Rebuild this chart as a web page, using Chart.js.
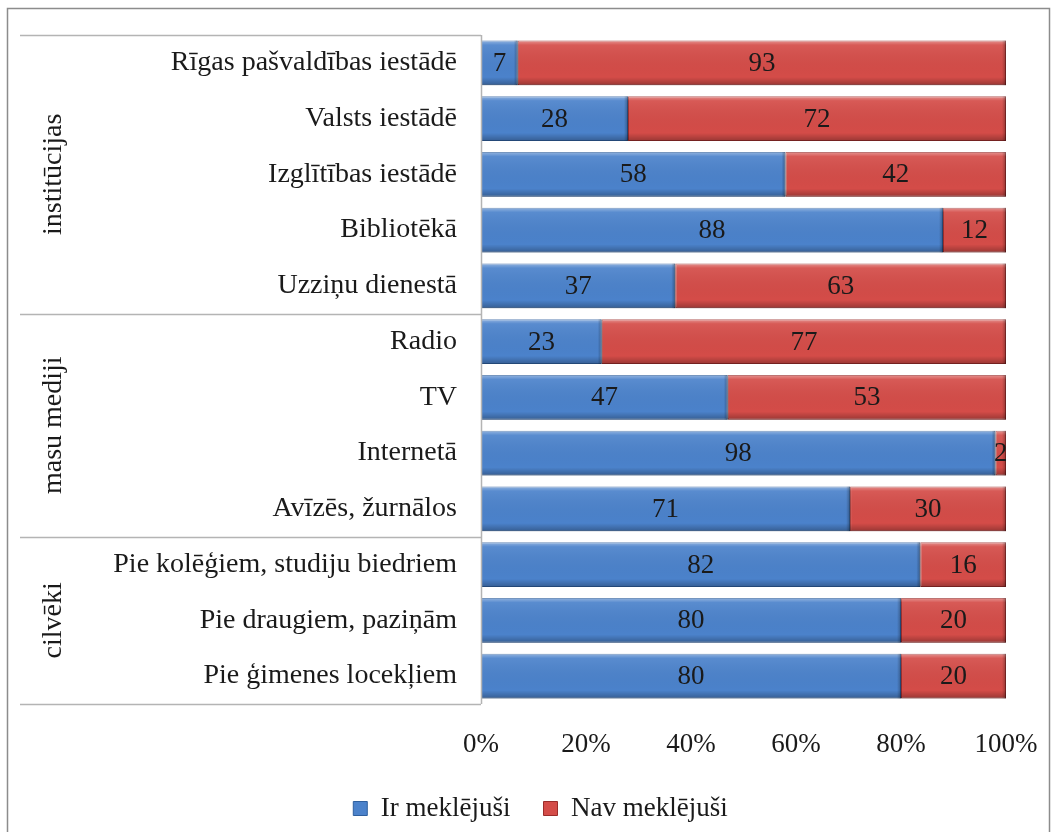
<!DOCTYPE html>
<html>
<head>
<meta charset="utf-8">
<script src="https://cdn.jsdelivr.net/npm/chart.js@4"></script>
<style>
  html, body { margin: 0; padding: 0; background: #fff; }
  #wrap { width: 1052px; height: 832px; }
</style>
</head>
<body>
<div id="wrap"><canvas id="chart" width="1052" height="832"></canvas></div>
<script>
// Dati
const categories = [
    'Rīgas pašvaldības iestādē', 'Valsts iestādē', 'Izglītības iestādē', 'Bibliotēkā', 'Uzziņu dienestā',
    'Radio', 'TV', 'Internetā', 'Avīzēs, žurnālos',
    'Pie kolēģiem, studiju biedriem', 'Pie draugiem, paziņām', 'Pie ģimenes locekļiem'
];
const irMeklejusi = [7, 28, 58, 88, 37, 23, 47, 98, 71, 82, 80, 80];
const navMeklejusi = [93, 72, 42, 12, 63, 77, 53, 2, 30, 16, 20, 20];
const groupNames = ['institūcijas', 'masu mediji', 'cilvēki'];
const groupSizes = [5, 4, 3];
const xTicks = [0, 20, 40, 60, 80, 100];

const FONT = '"Liberation Serif", "Times New Roman", serif';

// 100% stacked: each row scaled to its own total
const totals = irMeklejusi.map((v, i) => v + navMeklejusi[i]);
const irPct = irMeklejusi.map((v, i) => v / totals[i] * 100);
const navPct = navMeklejusi.map((v, i) => v / totals[i] * 100);
const rawValues = [irMeklejusi, navMeklejusi];

// Rāmis, grupu līnijas un nosaukumi
const framePlugin = {
    id: 'frame',
    beforeDraw(chart) {
        const c = chart.ctx;
        c.save();
        c.strokeStyle = '#8c8c8c';
        c.lineWidth = 1.5;
        c.strokeRect(7.5, 8.5, 1042, 840);
        c.restore();
    },
    afterDraw(chart) {
        const c = chart.ctx;
        const y = chart.scales.y;
        const area = chart.chartArea;
        const step = (area.bottom - area.top) / categories.length;
        c.save();
        c.strokeStyle = '#b4b4b4';
        c.lineWidth = 1.5;
        // vertikālā ass
        c.beginPath();
        c.moveTo(area.left + 0.5, area.top);
        c.lineTo(area.left + 0.5, area.bottom);
        c.stroke();
        let idx = 0;
        const bounds = [area.top];
        groupSizes.forEach(n => {
            idx += n;
            bounds.push(y.getPixelForValue(idx - 1) + step / 2);
        });
        bounds.forEach(b => {
            c.beginPath();
            c.moveTo(20, Math.round(b) + 0.5);
            c.lineTo(area.left, Math.round(b) + 0.5);
            c.stroke();
        });
        c.fillStyle = '#1a1a1a';
        c.font = '28px ' + FONT;
        c.textAlign = 'center';
        c.textBaseline = 'middle';
        groupNames.forEach((g, i) => {
            const mid = (bounds[i] + bounds[i + 1]) / 2;
            c.save();
            c.translate(54, mid);
            c.rotate(-Math.PI / 2);
            c.fillText(g, 0, 0);
            c.restore();
        });
        c.restore();
    }
};

// Stabiņu spīdums un vērtības
const barLabelPlugin = {
    id: 'barLabels',
    afterDatasetsDraw(chart) {
        const c = chart.ctx;
        c.save();
        chart.data.datasets.forEach((ds, di) => {
            const meta = chart.getDatasetMeta(di);
            meta.data.forEach((bar, i) => {
                const left = Math.min(bar.x, bar.base);
                const w = Math.abs(bar.x - bar.base);
                const top = bar.y - bar.height / 2;
                const g = c.createLinearGradient(0, top, 0, top + bar.height);
                g.addColorStop(0, 'rgba(255,255,255,0.4)');
                g.addColorStop(0.1, 'rgba(255,255,255,0.08)');
                g.addColorStop(0.82, 'rgba(0,0,0,0)');
                g.addColorStop(1, 'rgba(0,0,0,0.28)');
                c.fillStyle = g;
                c.fillRect(left, top, w, bar.height);
                // tumšāka labā mala
                const e = Math.min(4, w);
                const gr = c.createLinearGradient(left + w - e, 0, left + w, 0);
                gr.addColorStop(0, 'rgba(0,0,0,0)');
                gr.addColorStop(1, 'rgba(0,0,0,0.3)');
                c.fillStyle = gr;
                c.fillRect(left + w - e, top, e, bar.height);
            });
        });
        c.font = '27px ' + FONT;
        c.fillStyle = '#1a1a1a';
        c.textAlign = 'center';
        c.textBaseline = 'middle';
        chart.data.datasets.forEach((ds, di) => {
            const meta = chart.getDatasetMeta(di);
            meta.data.forEach((bar, i) => {
                const cx = (bar.x + bar.base) / 2;
                c.fillText(String(rawValues[di][i]), cx, bar.y + 1);
            });
        });
        c.restore();
    }
};

const ctx = document.getElementById('chart').getContext('2d');
new Chart(ctx, {
    type: 'bar',
    data: {
        labels: categories,
        datasets: [{
            label: 'Ir meklējuši',
            data: irPct,
            backgroundColor: '#4b82cb',
            borderColor: '#2e5f9e',
            borderWidth: 1,
            borderSkipped: false,
            barPercentage: 0.8,
            categoryPercentage: 1
        }, {
            label: 'Nav meklējuši',
            data: navPct,
            backgroundColor: '#d44c48',
            borderColor: '#9a2c2a',
            borderWidth: 1,
            borderSkipped: false,
            barPercentage: 0.8,
            categoryPercentage: 1
        }]
    },
    options: {
        indexAxis: 'y',
        responsive: false,
        animation: false,
        layout: {
            padding: { left: 75, right: 46, top: 35, bottom: 0 }
        },
        scales: {
            x: {
                stacked: true,
                min: 0,
                max: 100,
                afterBuildTicks: scale => { scale.ticks = xTicks.map(v => ({ value: v })); },
                afterFit: scale => {
                    scale.height = 58;
                    scale.paddingLeft = 0;
                    scale.paddingRight = 0;
                },
                grid: { display: false, drawTicks: false },
                border: { display: false },
                ticks: {
                    padding: 25,
                    color: '#1a1a1a',
                    font: { family: FONT, size: 27 },
                    callback: v => v + '%'
                }
            },
            y: {
                stacked: true,
                afterFit: scale => {
                    scale.width = 406;
                    scale.paddingTop = 0;
                    scale.paddingBottom = 0;
                },
                grid: { display: false, drawTicks: false },
                border: { display: false },
                ticks: {
                    padding: 24,
                    color: '#1a1a1a',
                    font: { family: FONT, size: 28 }
                }
            }
        },
        plugins: {
            legend: {
                position: 'bottom',
                labels: {
                    color: '#1a1a1a',
                    font: { family: FONT, size: 27 },
                    boxWidth: 14,
                    boxHeight: 14,
                    padding: 33
                }
            },
            tooltip: { enabled: false }
        }
    },
    plugins: [framePlugin, barLabelPlugin]
});
</script>
</body>
</html>
